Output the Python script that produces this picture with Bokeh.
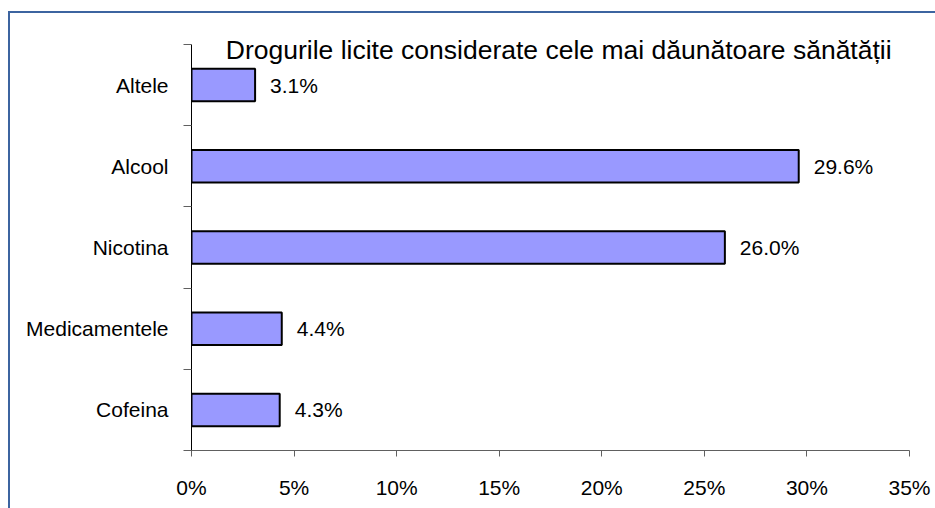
from bokeh.plotting import figure
from bokeh.models import Range1d, FixedTicker, PrintfTickFormatter, Label, ColumnDataSource
from bokeh.core.properties import value
from bokeh.embed import file_html
from bokeh.resources import INLINE

# Data (bottom to top)
categories = ["Cofeina", "Medicamentele", "Nicotina", "Alcool", "Altele"]
percentages = [4.3, 4.4, 26.0, 29.6, 3.1]
x_ticks = [0, 5, 10, 15, 20, 25, 30, 35]
title_text = "Drogurile licite considerate cele mai dăunătoare sănătății"

FONT = "Liberation Sans"
W, H = 935, 508
n = len(categories)
ypos = [i + 0.5 for i in range(n)]
headroom = 30 / 81.2  # space above the category area, in category units
src = ColumnDataSource(dict(y=ypos, v=percentages,
                            lab=["%.1f%%" % v for v in percentages]))

border_color = "#3C64A0"
grad = "linear-gradient(%s, %s)" % (border_color, border_color)

p = figure(width=W, height=H, output_backend="svg", toolbar_location=None,
           x_range=Range1d(0, 35), y_range=Range1d(0, n + headroom),
           min_border_left=191, min_border_right=26, min_border_top=14,
           min_border_bottom=58)
# chart-area border (left and top edges), drawn behind a transparent canvas border
p.styles = {
    "background": "%s 8px 11px / 2px 497px no-repeat, %s 8px 11px / 927px 2px no-repeat, white"
                  % (grad, grad),
}
p.outline_line_color = None
p.xgrid.grid_line_color = None
p.ygrid.grid_line_color = None
p.background_fill_color = None
p.border_fill_color = None

p.hbar(y="y", left=0, right="v", height=0.4, source=src,
       fill_color="#9999FF", line_color="black", line_width=2)
p.text(x="v", y="y", text="lab", source=src, x_offset=15,
       text_baseline="middle", text_align="left",
       text_font=value(FONT), text_font_size="21px", text_color="black")

# X axis
xa = p.xaxis[0]
xa.ticker = FixedTicker(ticks=x_ticks)
xa.formatter = PrintfTickFormatter(format="%d%%")
xa.major_label_text_font = FONT
xa.major_label_text_font_size = "21px"
xa.major_label_text_color = "black"
xa.axis_line_color = "#606060"
xa.major_tick_line_color = "#606060"
xa.major_tick_out = 6
xa.major_tick_in = 0
xa.minor_tick_line_color = None
xa.major_label_standoff = 19

# Y axis
ya = p.yaxis[0]
ya.bounds = (0, n)
ya.ticker = FixedTicker(ticks=ypos, minor_ticks=list(range(n + 1)))
ya.major_label_overrides = {y: c for y, c in zip(ypos, categories)}
ya.major_label_text_font = FONT
ya.major_label_text_font_size = "21px"
ya.major_label_text_color = "black"
ya.axis_line_color = "black"
ya.major_tick_line_color = None
ya.major_tick_out = 0
ya.major_tick_in = 0
ya.minor_tick_line_color = "#606060"
ya.minor_tick_out = 8
ya.minor_tick_in = 0
ya.major_label_standoff = 15

p.add_layout(Label(x=17.9, y=n, y_offset=-5, text=title_text,
                   text_align="center", text_baseline="alphabetic",
                   text_font=FONT, text_font_size="26.5px", text_color="black"))

open("out.html", "w").write(file_html(p, INLINE))
